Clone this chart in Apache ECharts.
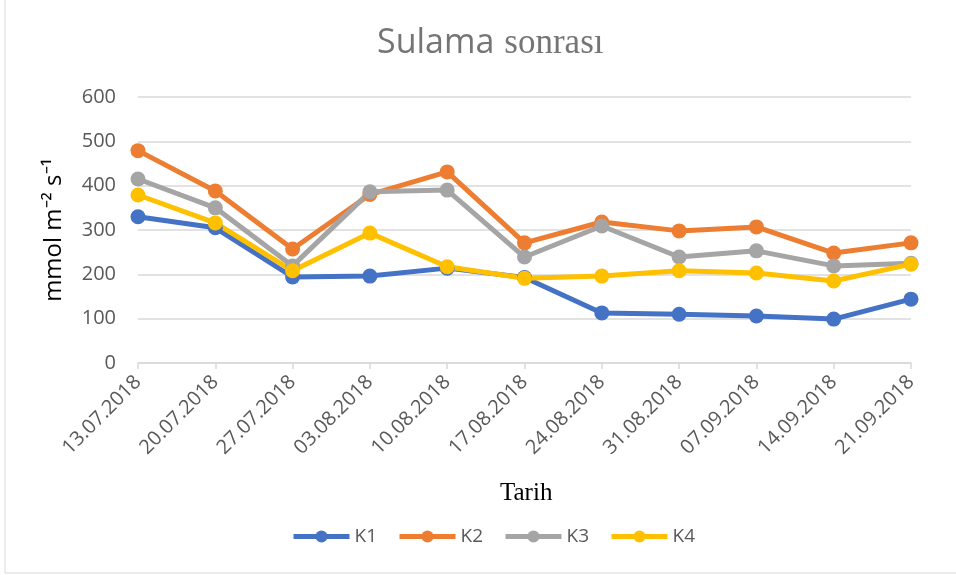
<!DOCTYPE html>
<html lang="tr">
<head>
    <meta charset="UTF-8">
    <title>Sulama sonrası</title>
    <script type="text/javascript" src="https://cdn.jsdelivr.net/npm/echarts@6/dist/echarts.min.js"></script>
    <style>
        html, body { margin: 0; padding: 0; background: #fff; }
        #main { width: 956px; height: 575px; }
    </style>
</head>
<body>
    <div id="main"></div>
</body>
<script type="text/javascript">
    // tarihler
    var dates = ['13.07.2018', '20.07.2018', '27.07.2018', '03.08.2018', '10.08.2018', '17.08.2018',
                 '24.08.2018', '31.08.2018', '07.09.2018', '14.09.2018', '21.09.2018'];
    var seriesNames = ['K1', 'K2', 'K3', 'K4'];
    var k1 = [330, 305, 194, 196, 214, 193, 113, 110, 106, 99, 144];
    var k2 = [479, 388, 257, 380, 431, 271, 318, 298, 307, 248, 271];
    var k3 = [415, 350, 219, 386, 390, 239, 309, 239, 253, 219, 225];
    var k4 = [379, 316, 208, 293, 217, 191, 196, 208, 203, 185, 223];
    var colors = ['#4472C4', '#ED7D31', '#A5A5A5', '#FFC000'];

    var allData = [k1, k2, k3, k4];
    var series = [];
    var legendData = [];
    for (var i = 0; i < allData.length; i++) {
        series.push({
            name: seriesNames[i],
            type: 'line',
            data: allData[i],
            symbol: 'circle',
            symbolSize: 15,
            lineStyle: { width: 5, color: colors[i] },
            itemStyle: { color: colors[i] },
            emphasis: { disabled: true }
        });
        legendData.push({ name: seriesNames[i], lineStyle: { width: 5, color: colors[i] } });
    }

    var myChart = echarts.init(document.getElementById('main'));
    var option = {
        backgroundColor: '#fff',
        animation: false,
        title: {
            text: '{a|Sulama}  {b|sonrası}',
            left: 372,
            top: 21,
            textStyle: {
                rich: {
                    a: { fontFamily: 'Open Sans', fontSize: 34, fontWeight: 'normal', color: '#757575' },
                    b: { fontFamily: 'Liberation Serif', fontSize: 35, fontWeight: 'normal', color: '#757575' }
                }
            }
        },
        legend: {
            data: legendData,
            bottom: 24,
            left: 286,
            itemWidth: 56,
            itemHeight: 15,
            itemGap: 20,
            lineStyle: { width: 5 },
            textStyle: { color: '#595959', fontSize: 19, fontFamily: 'Open Sans' }
        },
        graphic: [{
            type: 'rect',
            shape: { x: 5, y: -5, width: 1000, height: 578 },
            style: { fill: 'none', stroke: '#d9d9d9', lineWidth: 1 },
            silent: true
        }, {
            type: 'text',
            left: 500,
            top: 481,
            style: { text: 'Tarih', fontFamily: 'Liberation Serif', fontSize: 25, fill: '#000' }
        }],
        grid: { left: 138, right: 45, top: 97, bottom: 212 },
        xAxis: {
            type: 'category',
            data: dates,
            boundaryGap: false,
            axisLine: { lineStyle: { color: '#d9d9d9', width: 1.5 } },
            axisTick: { show: true, alignWithLabel: true, length: 6, lineStyle: { color: '#d9d9d9', width: 1.5 } },
            axisLabel: {
                rotate: 45,
                interval: 0,
                color: '#595959',
                fontSize: 20,
                fontFamily: 'Open Sans',
                margin: 16
            }
        },
        yAxis: {
            type: 'value',
            min: 0,
            max: 600,
            interval: 100,
            name: 'mmol m⁻² s⁻¹',
            nameLocation: 'middle',
            nameGap: 72,
            nameTextStyle: { color: '#000', fontSize: 24, fontFamily: 'Open Sans' },
            axisLine: { show: false },
            axisTick: { show: false },
            axisLabel: { color: '#595959', fontSize: 20, fontFamily: 'Open Sans', margin: 22 },
            splitLine: { lineStyle: { color: '#d9d9d9', width: 1.5 } }
        },
        series: series
    };
    myChart.setOption(option);
</script>
</html>
